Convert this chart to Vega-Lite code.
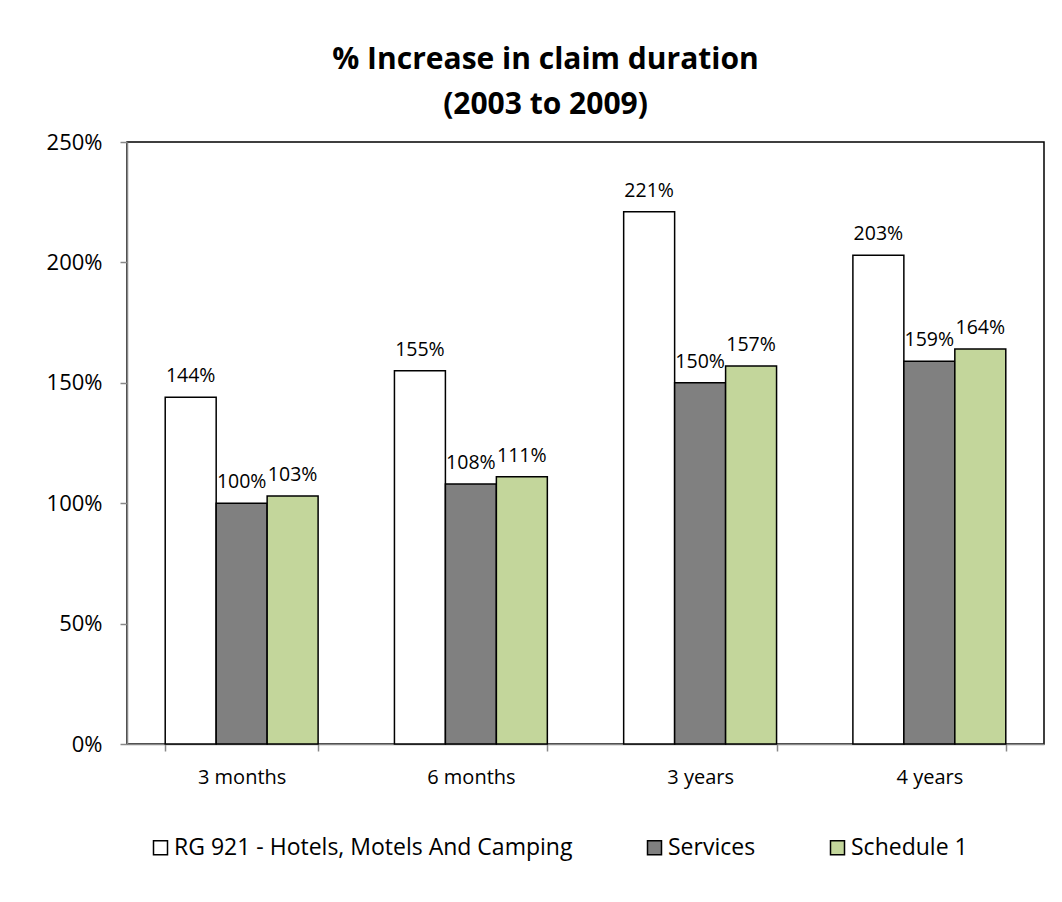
{
  "$schema": "https://vega.github.io/schema/vega-lite/v6.json",
  "width": 917,
  "height": 602,
  "autosize": {"type": "none"},
  "padding": {"left": 127, "top": 142, "right": 18, "bottom": 158},
  "background": "white",
  "title": {
    "text": ["% Increase in claim duration", "(2003 to 2009)"],
    "font": "Open Sans",
    "fontSize": 30,
    "fontWeight": "bold",
    "color": "black",
    "lineHeight": 45,
    "anchor": "middle",
    "frame": "group",
    "dx": -40,
    "offset": 11
  },
  "config": {
    "view": {"stroke": "black", "strokeWidth": 1.5},
    "font": "Open Sans"
  },
  "data": {
    "values": [
      {"cat": "3 months", "series": "RG 921 - Hotels, Motels And Camping", "value": 1.44},
      {"cat": "3 months", "series": "Services", "value": 1.00},
      {"cat": "3 months", "series": "Schedule 1", "value": 1.03},
      {"cat": "6 months", "series": "RG 921 - Hotels, Motels And Camping", "value": 1.55},
      {"cat": "6 months", "series": "Services", "value": 1.08},
      {"cat": "6 months", "series": "Schedule 1", "value": 1.11},
      {"cat": "3 years", "series": "RG 921 - Hotels, Motels And Camping", "value": 2.21},
      {"cat": "3 years", "series": "Services", "value": 1.50},
      {"cat": "3 years", "series": "Schedule 1", "value": 1.57},
      {"cat": "4 years", "series": "RG 921 - Hotels, Motels And Camping", "value": 2.03},
      {"cat": "4 years", "series": "Services", "value": 1.59},
      {"cat": "4 years", "series": "Schedule 1", "value": 1.64}
    ]
  },
  "encoding": {
    "x": {
      "field": "cat",
      "type": "nominal",
      "sort": ["3 months", "6 months", "3 years", "4 years"],
      "scale": {"paddingInner": 0.333, "paddingOuter": 0.1667},
      "axis": {
        "title": null,
        "labelAngle": 0,
        "labelFont": "Open Sans",
        "labelFontSize": 20,
        "labelColor": "black",
        "labelPadding": 16,
        "domainColor": "#888888",
        "domainWidth": 1.5,
        "tickColor": "#888888",
        "tickWidth": 1.5,
        "tickSize": 7,
        "tickBand": "extent"
      }
    },
    "xOffset": {
      "field": "series",
      "type": "nominal",
      "sort": ["RG 921 - Hotels, Motels And Camping", "Services", "Schedule 1"],
      "scale": {"paddingInner": 0, "paddingOuter": 0}
    },
    "y": {
      "field": "value",
      "type": "quantitative",
      "scale": {"domain": [0, 2.5], "nice": false},
      "axis": {
        "title": null,
        "format": ".0%",
        "values": [0, 0.5, 1, 1.5, 2, 2.5],
        "grid": false,
        "labelFont": "Open Sans",
        "labelFontSize": 22,
        "labelColor": "black",
        "labelPadding": 18,
        "domainColor": "#888888",
        "domainWidth": 1.5,
        "tickColor": "#888888",
        "tickWidth": 1.5,
        "tickSize": 7
      }
    }
  },
  "layer": [
    {
      "mark": {"type": "bar", "stroke": "black", "strokeWidth": 1.5},
      "encoding": {
        "color": {
          "field": "series",
          "type": "nominal",
          "sort": ["RG 921 - Hotels, Motels And Camping", "Services", "Schedule 1"],
          "scale": {
            "domain": ["RG 921 - Hotels, Motels And Camping", "Services", "Schedule 1"],
            "range": ["#ffffff", "#808080", "#c3d69b"]
          },
          "legend": {
            "title": null,
            "orient": "none",
            "legendX": 22,
            "legendY": 694,
            "direction": "horizontal",
            "symbolType": "square",
            "symbolSize": 196,
            "symbolStrokeColor": "black",
            "symbolStrokeWidth": 1.5,
            "symbolOpacity": 1,
            "labelFont": "Open Sans",
            "labelFontSize": 23,
            "labelColor": "black",
            "labelLimit": 500,
            "labelOffset": 2,
            "columnPadding": 70
          }
        }
      }
    },
    {
      "mark": {"type": "text", "baseline": "alphabetic", "dy": -15, "fontSize": 19.5, "font": "Open Sans", "color": "black"},
      "encoding": {
        "text": {"field": "value", "type": "quantitative", "format": ".0%"}
      }
    }
  ]
}
